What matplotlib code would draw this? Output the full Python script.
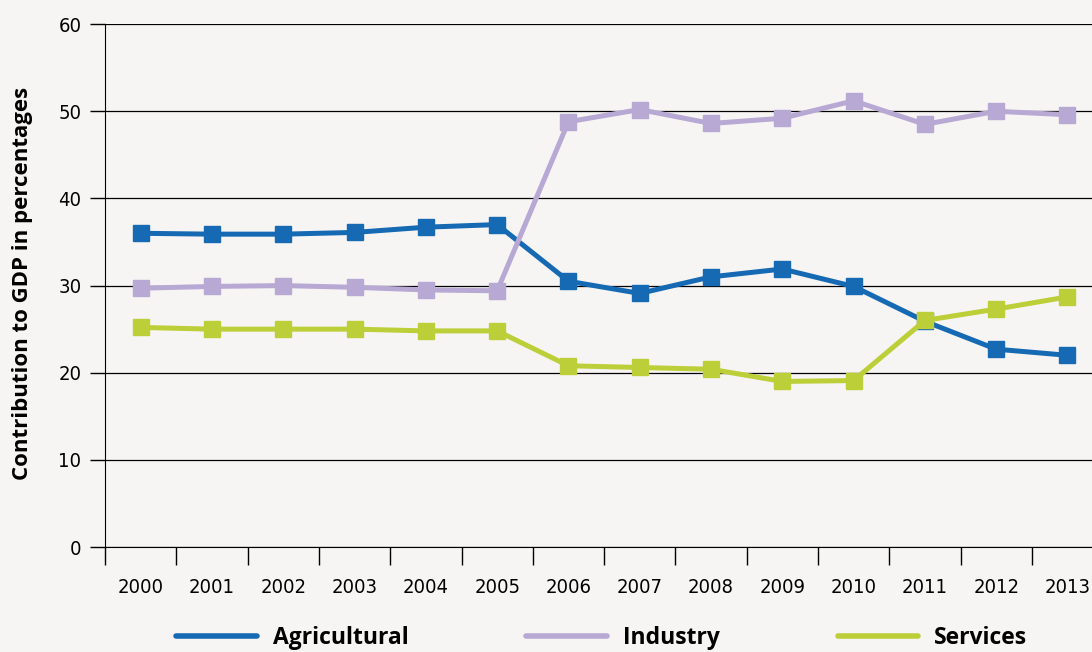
import matplotlib.pyplot as plt
import numpy as np
from matplotlib.lines import Line2D

years = ['2000', '2001', '2002', '2003', '2004', '2005', '2006',
         '2007', '2008', '2009', '2010', '2011', '2012', '2013']
agricultural = [36.0, 35.9, 35.9, 36.1, 36.7, 37.0, 30.5,
                29.1, 31.0, 31.9, 29.9, 25.9, 22.7, 22.0]
industry = [29.7, 29.9, 30.0, 29.8, 29.5, 29.4, 48.8,
            50.2, 48.6, 49.2, 51.2, 48.5, 50.0, 49.6]
services = [25.2, 25.0, 25.0, 25.0, 24.8, 24.8, 20.8,
            20.6, 20.4, 19.0, 19.1, 26.0, 27.3, 28.7]

bg = '#f6f5f3'
bold = ['Open Sans', 'DejaVu Sans']

fig = plt.figure(figsize=(10.92, 6.52), dpi=100, facecolor=bg)
ax = fig.add_axes([0.0962, 0.161, 0.914, 0.802])
ax.set_facecolor(bg)

x = np.arange(len(years))
series = [('Agricultural', agricultural, '#1669b3'),
          ('Industry', industry, '#b8a8d4'),
          ('Services', services, '#bccf38')]
for name, vals, col in series:
    ax.plot(x, vals, color=col, lw=3.6, marker='s', ms=12,
            mec=col, label=name, zorder=3)

ax.set_xlim(-0.5, 13.5)
ax.set_ylim(0, 60)
ax.set_yticks(range(0, 61, 10))
ax.yaxis.grid(True, color='black', lw=0.9)
ax.set_axisbelow(True)
for s in ['top', 'right']:
    ax.spines[s].set_visible(False)

tick_font = dict(family='DejaVu Sans', stretch='condensed', size=14.5)

# ticks between categories, labels under the points
ax.set_xticks(np.arange(-0.5, 13.5, 1.0))
ax.set_xticklabels([])
ax.set_xticks(x, minor=True)
ax.set_xticklabels(years, minor=True, fontdict=tick_font)
ax.tick_params(axis='x', which='major', length=13, width=1, direction='out')
ax.tick_params(axis='x', which='minor', length=0, pad=22)
ax.tick_params(axis='y', length=11, width=1, pad=6)
ax.set_yticklabels([str(v) for v in range(0, 61, 10)], fontdict=tick_font)

ax.set_ylabel('Contribution to GDP in percentages', family=bold,
              fontweight='bold', fontsize=16)
ax.yaxis.set_label_coords(-0.072, 0.505)

labels = [s[0] for s in series]
lh = [Line2D([], [], color=c, lw=4, solid_capstyle='round') for _, _, c in series]
fig.legend(lh, labels, loc='center', bbox_to_anchor=(0.551, 0.021),
           ncol=3, frameon=False, handlelength=3.5, handletextpad=0.7,
           columnspacing=5.15, prop={'family': bold, 'weight': 'bold', 'size': 16.5})

fig.savefig('out.png', dpi=100, facecolor=bg)
